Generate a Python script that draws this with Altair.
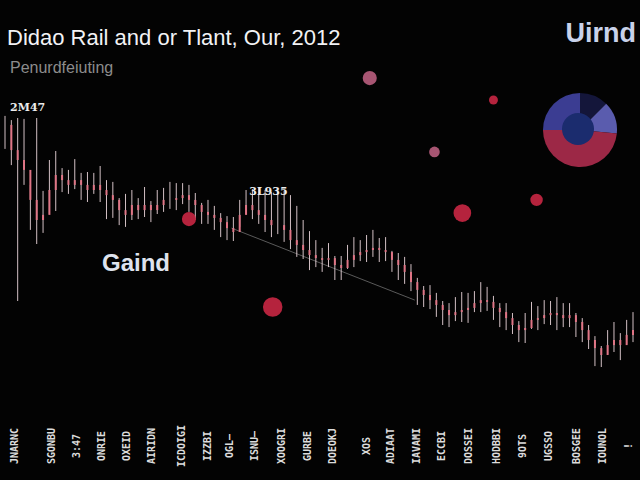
import altair as alt
import pandas as pd

# Daily closing values (price units) for the 100 sessions
close = [111.7, 103.3, 100.0, 96.7, 86.7, 80.0, 81.7, 90.0, 95.0, 93.3,
         91.7, 93.3, 91.7, 90.0, 91.7, 90.0, 88.3, 86.7, 83.3, 81.7,
         85.0, 83.3, 85.0, 83.3, 85.0, 86.7, 86.7, 87.3, 88.3, 86.7,
         85.0, 82.7, 81.7, 80.7, 79.3, 77.3, 76.0, 81.7, 85.0, 83.3,
         81.7, 80.0, 78.3, 78.3, 76.7, 73.3, 71.7, 70.0, 68.3, 67.3,
         66.7, 67.3, 65.0, 64.0, 66.7, 68.3, 69.3, 70.0, 70.7, 70.0,
         69.3, 66.7, 65.0, 62.7, 59.3, 56.7, 55.0, 53.3, 51.7, 50.0,
         48.3, 49.3, 50.0, 50.7, 52.3, 53.3, 52.7, 50.7, 49.3, 47.3,
         45.0, 43.3, 44.0, 46.7, 47.3, 48.3, 49.0, 48.3, 47.3, 48.3,
         46.0, 43.3, 40.0, 37.3, 35.0, 38.3, 40.0, 38.3, 41.7, 43.3]

# Distance from close to the session high / low
upper_wick = [3, 10, 14, 17, 5, 34, 8, 10, 8, 4,
              5, 7, 4, 6, 4, 8, 5, 6, 4, 7,
              5, 4, 6, 3, 5, 4, 6, 5, 4, 5,
              4, 3, 5, 4, 3, 4, 5, 5, 5, 7,
              9, 10, 11, 12, 13, 15, 13, 10, 8, 6,
              4, 5, 3, 4, 5, 6, 4, 5, 6, 4,
              5, 3, 4, 5, 6, 4, 3, 5, 4, 3,
              4, 5, 6, 5, 4, 6, 5, 4, 3, 5,
              4, 3, 5, 6, 4, 5, 4, 6, 5, 4,
              3, 4, 5, 4, 3, 5, 6, 4, 5, 6]
lower_wick = [8, 5, 47, 5, 10, 8, 6, 8, 12, 4,
              3, 3, 5, 4, 3, 4, 8, 6, 5, 4,
              5, 3, 4, 4, 3, 4, 3, 4, 3, 4,
              5, 4, 3, 4, 5, 4, 3, 4, 3, 3,
              3, 4, 4, 3, 4, 3, 4, 3, 5, 3,
              4, 3, 5, 4, 3, 4, 3, 4, 3, 4,
              3, 4, 5, 4, 3, 5, 4, 3, 4, 5,
              4, 3, 4, 5, 3, 4, 3, 4, 5, 4,
              3, 4, 5, 3, 4, 3, 4, 5, 3, 4,
              5, 4, 3, 6, 4, 3, 4, 5, 3, 4]

# Bottom tick labels and the sessions they sit under
tick_labels = ["JNARNC", "SGONBU", "3:47", "ONRIE", "OXEID", "AIRIDN",
               "ICDOIGI", "IZZBI", "OGL\u2014", "ISNU\u2014", "XOOGRI", "GURBE",
               "DOEOKJ", "XOS", "ADIAAT", "IAVAMI", "ECCBI", "DOSSEI",
               "HODBBI", "9OTS", "UGSSO", "BOSGEE", "IOUNOL", "!"]
tick_days = [1.6, 7.4, 11.3, 15.3, 19.2, 23.1, 27.9, 32.0, 35.4, 39.4, 43.6, 47.7,
             51.7, 57.0, 60.9, 64.9, 68.9, 73.2, 77.5, 81.6, 85.8, 90.2, 94.2, 98.4]

# Event bubbles
bubble_day = [57.5, 77.0, 67.7, 72.1, 83.8, 29.0, 42.2]
bubble_value = [127.3, 120.0, 102.7, 82.3, 86.7, 80.3, 51.0]
bubble_size = [200, 80, 113, 314, 154, 200, 380]
bubble_tone = ["faint", "strong", "faint", "strong", "strong", "strong", "strong"]

# Trend line end points
trend_day = [35.7, 64.6]
trend_value = [77.3, 53.3]

# Share breakdown (donut)
share_seg = ["Core", "Edge", "Rail", "Base"]
share_val = [12.5, 14.0, 48.5, 25.0]

days = list(range(len(close)))
open_ = [close[0]] + close[:-1]
ohlc = pd.DataFrame({
    "day": days,
    "open": open_,
    "close": close,
    "high": [c + u for c, u in zip(close, upper_wick)],
    "low": [c - d for c, d in zip(close, lower_wick)],
})

xs = alt.Scale(domain=[0, 99], range=[5, 633], nice=False, zero=False)
ys = alt.Scale(domain=[20, 120], range=[400, 100], nice=False, zero=False)

wicks = alt.Chart(ohlc).mark_rule(color="#ead5da", strokeWidth=1, opacity=0.9).encode(
    x=alt.X("day:Q", scale=xs, axis=None),
    y=alt.Y("low:Q", scale=ys, axis=None),
    y2="high:Q",
)
bodies = alt.Chart(ohlc).mark_rule(color="#e07586", strokeWidth=2).encode(
    x=alt.X("day:Q", scale=xs, axis=None),
    y=alt.Y("open:Q", scale=ys, axis=None),
    y2="close:Q",
)

trend = alt.Chart(pd.DataFrame({"day": trend_day, "v": trend_value})).mark_line(
    color="#5a5a5a", strokeWidth=1
).encode(
    x=alt.X("day:Q", scale=xs, axis=None),
    y=alt.Y("v:Q", scale=ys, axis=None),
)

bubbles = alt.Chart(pd.DataFrame({
    "day": bubble_day, "v": bubble_value, "s": bubble_size, "tone": bubble_tone
})).mark_circle(opacity=0.95).encode(
    x=alt.X("day:Q", scale=xs, axis=None),
    y=alt.Y("v:Q", scale=ys, axis=None),
    size=alt.Size("s:Q", scale=None, legend=None),
    color=alt.Color("tone:N", scale=alt.Scale(domain=["faint", "strong"],
                                              range=["#b05a78", "#bf2540"]), legend=None),
)

ticks = alt.Chart(pd.DataFrame({"day": tick_days, "t": tick_labels})).mark_text(
    angle=270, align="center", baseline="middle", font="DejaVu Sans Mono",
    fontSize=10, fontWeight="bold", color="#dcdcdc"
).encode(
    x=alt.X("day:Q", scale=xs, axis=None),
    y=alt.value(446),
    text="t:N",
)

donut = alt.Chart(pd.DataFrame({
    "seg": share_seg, "val": share_val, "ord": [0, 1, 2, 3]
})).mark_arc(radius=37).encode(
    theta=alt.Theta("val:Q", stack=True),
    order=alt.Order("ord:Q"),
    color=alt.Color("seg:N", scale=alt.Scale(domain=share_seg,
                                             range=["#14163a", "#5a5cae", "#9c2846", "#3b3d92"]),
                    legend=None),
    x=alt.value(580),
    y=alt.value(130),
)
hub = alt.Chart(pd.DataFrame({"k": ["hub"]})).mark_arc(
    radius=16, theta=0, theta2=6.2832, color="#1b2c6e"
).encode(x=alt.value(578), y=alt.value(129))


def label(text, x, y, size, color, weight="normal", font="Liberation Sans", align="left"):
    return alt.Chart(pd.DataFrame({"t": [text]})).mark_text(
        align=align, baseline="middle", fontSize=size, font=font,
        fontWeight=weight, color=color
    ).encode(text="t:N", x=alt.value(x), y=alt.value(y))


title = label("Didao Rail and or Tlant, Our, 2012", 7, 38, 22, "#f2f2f5", 500)
subtitle = label("Penurdfeiuting", 10, 68, 16, "#8c8c8c")
corner = label("Uirnd", 636, 34, 27, "#c9d2ea", "bold", "Liberation Sans", "right")
gaind = label("Gaind", 102, 264, 24, "#dfe3ee", "bold")

peak1 = alt.Chart(pd.DataFrame({"day": [0.8], "v": [117.3], "t": ["2M47"]})).mark_text(
    align="left", baseline="middle", fontSize=11, fontWeight="bold",
    font="DejaVu Serif", color="#ececec"
).encode(x=alt.X("day:Q", scale=xs, axis=None), y=alt.Y("v:Q", scale=ys, axis=None), text="t:N")
peak2 = alt.Chart(pd.DataFrame({"day": [38.5], "v": [89.3], "t": ["3L935"]})).mark_text(
    align="left", baseline="middle", fontSize=11, fontWeight="bold",
    font="DejaVu Serif", color="#ececec"
).encode(x=alt.X("day:Q", scale=xs, axis=None), y=alt.Y("v:Q", scale=ys, axis=None), text="t:N")

chart = alt.layer(
    trend, wicks, bodies, bubbles, ticks, donut, hub,
    title, subtitle, corner, gaind, peak1, peak2
).resolve_scale(color="independent").properties(
    width=640, height=480, background="#030303", padding=0,
    autosize=alt.AutoSizeParams(type="none"),
).configure_view(stroke=None)

chart.save("out.html", embed_options={"renderer": "svg", "actions": False})
